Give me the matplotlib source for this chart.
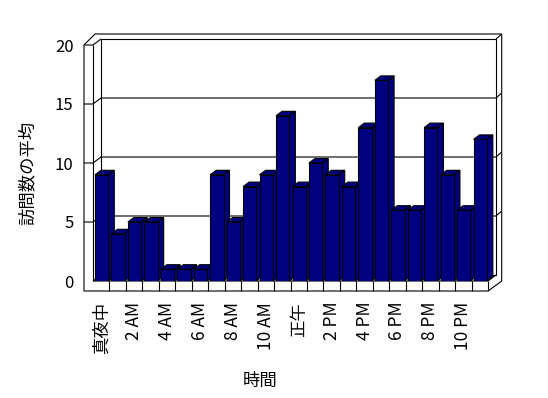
import matplotlib
matplotlib.use("Agg")
import matplotlib.pyplot as plt
from matplotlib.patches import Polygon
import numpy as np

plt.rcParams['font.family'] = ['Noto Sans CJK JP', 'DejaVu Sans']

# ---- data ----
hours = list(range(24))
visits = [9, 4, 5, 5, 1, 1, 1, 9, 5, 8, 9, 14, 8, 10, 9, 8, 13, 17, 6, 6, 13, 9, 6, 12]
tick_positions = list(range(0, 24, 2))
tick_labels = ["真夜中", "2 AM", "4 AM", "6 AM", "8 AM", "10 AM",
               "正午", "2 PM", "4 PM", "6 PM", "8 PM", "10 PM"]
y_ticks = [0, 5, 10, 15, 20]
x_title = "時間"
y_title = "訪問数の平均"

W, H = 548, 398
DPI = 100
fig = plt.figure(figsize=(W / DPI, H / DPI), dpi=DPI)

# front plane of the plot (pixels)
L, R, T, B = 93, 488, 45, 281
ax = fig.add_axes([L / W, 1 - B / H, (R - L) / W, (B - T) / H])
x0, x1, y0, y1 = -0.5, 23.5, 0, 20
ax.set_xlim(x0, x1)
ax.set_ylim(y0, y1)
sx = (x1 - x0) / (R - L)   # data units per pixel
sy = (y1 - y0) / (B - T)

for s in ax.spines.values():
    s.set_visible(False)
ax.set_facecolor('none')

NAVY = '#000080'
LW = 0.8
kw = dict(color='black', lw=LW, clip_on=False, solid_capstyle='butt')

# frame geometry (pixel sizes)
wx = 9 * sx        # left wall thickness
fy = 10 * sy       # floor thickness
Dx, Dy = 8 * sx, 6 * sy       # depth offset
bx, by = 5.7 * sx, 5 * sy     # back wall thickness
cx, cy = 11 * sx, 11 * sy     # left-top outer corner offset

outer = Polygon([(x0 - wx, y0 - fy), (x0 - wx, y1), (x0 - wx + cx, y1 + cy),
                 (x1 + Dx + bx, y1 + Dy + by), (x1 + Dx + bx, y0 - 0.1 * sy),
                 (x1, y0 - fy)], closed=True, facecolor='white',
                edgecolor='black', lw=LW, clip_on=False, zorder=0.5)
ax.add_patch(outer)
inner = Polygon([(x0 + Dx, y0 + Dy), (x0 + Dx, y1 + Dy), (x1 + Dx, y1 + Dy),
                 (x1 + Dx, y0 + Dy)], closed=True, facecolor='white',
                edgecolor='black', lw=LW, clip_on=False, zorder=0.6)
ax.add_patch(inner)

def line(xs, ys, z=0.7):
    ax.plot(xs, ys, zorder=z, **kw)

line([x0, x0], [y0, y1])
line([x0 - wx, x0, x0 + Dx], [y1, y1, y1 + Dy])
line([x1 + Dx, x1 + Dx + bx], [y1 + Dy, y1 + Dy + by])
line([x0, x1, x1 + Dx], [y0, y0, y0 + Dy])
line([x0, x0 + Dx], [y0, y0 + Dy])
line([x1, x1], [y0, y0 - fy])
for k in range(1, 24):
    line([x0 + k, x0 + k], [y0 - fy, y0])
for v in y_ticks[1:-1]:
    line([x0 - wx, x0, x0 + Dx, x1 + Dx, x1 + Dx + bx],
         [v, v, v + Dy, v + Dy, v + Dy + by])

# bars
bw = 13.3 * sx
boff = 2 * sx
ddx, ddy = 6 * sx, 4.5 * sy
bars = ax.bar(np.array(hours) + x0 + boff, visits,
              width=bw, align='edge', color=NAVY, edgecolor='black', lw=LW)
for i, (rect, v) in enumerate(zip(bars, visits)):
    z = 3 + i * 0.01
    rect.set_zorder(z + 0.002)
    xl = rect.get_x()
    xr = xl + bw
    top = Polygon([(xl, v), (xl + ddx, v + ddy), (xr + ddx, v + ddy), (xr, v)],
                  closed=True, facecolor=NAVY, edgecolor='black', lw=LW,
                  zorder=z, clip_on=False)
    side = Polygon([(xr, 0), (xr, v), (xr + ddx, v + ddy), (xr + ddx, ddy)],
                   closed=True, facecolor=NAVY, edgecolor='black', lw=LW,
                   zorder=z, clip_on=False)
    ax.add_patch(side)
    ax.add_patch(top)

ax.set_yticks(y_ticks)
ax.set_yticklabels([str(t) for t in y_ticks], fontsize=12)
ax.tick_params(axis='y', length=0, pad=14)
ax.set_xticks(tick_positions)
ax.set_xticklabels(tick_labels, rotation=90, fontsize=12.5, va='top', ha='center')
ax.tick_params(axis='x', length=0, pad=15)

fig.text(260.5 / W, 1 - 381 / H, x_title, fontsize=12.5, ha='center', va='center')
fig.text(28 / W, 1 - 172.5 / H, y_title, fontsize=12.5, rotation=90,
         ha='center', va='center')

fig.savefig('out.png', dpi=DPI)
